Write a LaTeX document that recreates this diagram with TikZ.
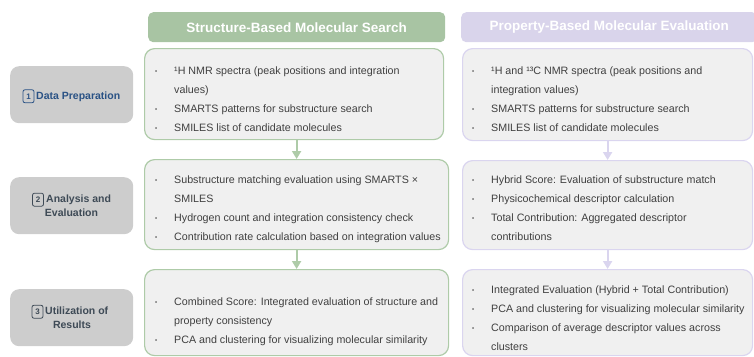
\documentclass[tikz,border=0pt]{standalone}
\usepackage{fontspec}
\setmainfont{Liberation Sans}
\usetikzlibrary{arrows.meta}

\definecolor{sage}{HTML}{A8C4A3}
\definecolor{sageline}{HTML}{AECBA8}
\definecolor{lav}{HTML}{D9D4EB}
\definecolor{lavline}{HTML}{DAD5EF}
\definecolor{panel}{HTML}{F0F0F0}
\definecolor{stepgray}{HTML}{CDCDCD}
\definecolor{bodytext}{HTML}{404040}
\definecolor{navy}{HTML}{2A5285}
\definecolor{slate}{HTML}{3E4A56}

% bullet list helpers: \bl = bulleted line, \cl = continuation line
\newcommand\bl[1]{\hbox{\makebox[19pt][l]{\raisebox{0.25ex}{\fontsize{6}{6}\selectfont\textbullet}}#1}}
\newcommand\cl[1]{\hbox{\hspace*{19pt}#1}}
\newcommand\blist[1]{\vtop{\baselineskip=19pt\lineskiplimit=-20pt\lineskip=0pt #1}}

\tikzset{
  header/.style={rounded corners=5pt, minimum height=30pt, inner sep=0pt, anchor=north west,
    text=white, font=\fontsize{13.5}{16}\selectfont\bfseries},
  panelbox/.style={rounded corners=10pt, fill=panel, line width=1.2pt, inner sep=0pt, anchor=north west},
  gpanel/.style={panelbox, draw=sageline},
  ppanel/.style={panelbox, draw=lavline},
  stepbox/.style={rounded corners=9pt, fill=stepgray, inner sep=0pt, anchor=north west,
    minimum width=123pt, minimum height=57pt},
  listtext/.style={anchor=base west, inner sep=0pt, text=bodytext, font=\fontsize{10.7}{19}\selectfont},
  steptext/.style={anchor=base west, inner sep=0pt, font=\fontsize{10.5}{14}\selectfont\bfseries},
  numicon/.style={draw, rounded corners=2pt, line width=0.8pt, inner sep=0pt, anchor=base,
    minimum width=11pt, minimum height=13pt, font=\fontsize{8}{9}\selectfont\bfseries},
  garrow/.style={draw=sageline, line width=2pt, -{Triangle[length=8pt,width=9pt]}},
  parrow/.style={draw=lavline, line width=2pt, -{Triangle[length=8pt,width=9pt]}},
}

\begin{document}
\begin{tikzpicture}[x=1pt, y=-1pt]
\useasboundingbox (0,0) rectangle (754,356);

% column headers
\node[header, fill=sage, minimum width=297pt] (hg) at (148,12) {Structure-Based Molecular Search};
\node[header, fill=lav, minimum width=296pt] (hp) at (461,12) {Property-Based Molecular Evaluation};

% step labels
\node[stepbox] (s1) at (10,66) {};
\node[stepbox] (s2) at (10,177) {};
\node[stepbox] (s3) at (10,289) {};

\node[numicon, draw=navy, text=navy] (n1) at (28.5,99) {1};
\node[steptext, text=navy] (t1) at (36,99) {Data Preparation};

\node[numicon, draw=slate, text=slate] (n2) at (38,202.5) {2};
\node[steptext, text=slate] (t2a) at (46,202.5) {Analysis and};
\node[steptext, text=slate, anchor=base] (t2b) at (71.5,216.5) {Evaluation};

\node[numicon, draw=slate, text=slate] (n3) at (37.5,314.5) {3};
\node[steptext, text=slate] (t3a) at (45,314.5) {Utilization of};
\node[steptext, text=slate, anchor=base] (t3b) at (72,328.5) {Results};

% structure-based panels
\node[gpanel, minimum width=299pt, minimum height=91pt] (g1) at (144,48) {};
\node[gpanel, minimum width=304pt, minimum height=90pt] (g2) at (144,159) {};
\node[gpanel, minimum width=304pt, minimum height=86pt] (g3) at (144,269) {};

% property-based panels
\node[ppanel, minimum width=290pt, minimum height=92pt] (p1) at (462,48) {};
\node[ppanel, minimum width=290pt, minimum height=89pt] (p2) at (462,160) {};
\node[ppanel, minimum width=290pt, minimum height=86pt] (p3) at (462,269) {};

% flow arrows
\draw[garrow] (g2.north |- g1.south) -- (g2.north);
\draw[garrow] (g3.north |- g2.south) -- (g3.north);
\draw[parrow] (p2.north |- p1.south) -- (p2.north);
\draw[parrow] (p3.north |- p2.south) -- (p3.north);

% panel contents
\node[listtext] (g1t) at (155,74.5) {\blist{%
  \bl{¹H NMR spectra (peak positions and integration}
  \cl{values)}
  \bl{SMARTS patterns for substructure search}
  \bl{SMILES list of candidate molecules}}};

\node[listtext] (g2t) at (155,183.5) {\blist{%
  \bl{Substructure matching evaluation using SMARTS ×}
  \cl{SMILES}
  \bl{Hydrogen count and integration consistency check}
  \bl{Contribution rate calculation based on integration values}}};

\node[listtext] (g3t) at (155,305.5) {\blist{%
  \bl{Combined Score: Integrated evaluation of structure and}
  \cl{property consistency}
  \bl{PCA and clustering for visualizing molecular similarity}}};

\node[listtext] (p1t) at (472,74.5) {\blist{%
  \bl{¹H and ¹³C NMR spectra (peak positions and}
  \cl{integration values)}
  \bl{SMARTS patterns for substructure search}
  \bl{SMILES list of candidate molecules}}};

\node[listtext] (p2t) at (472,183.5) {\blist{%
  \bl{Hybrid Score: Evaluation of substructure match}
  \bl{Physicochemical descriptor calculation}
  \bl{Total Contribution: Aggregated descriptor}
  \cl{contributions}}};

\node[listtext] (p3t) at (472,293.5) {\blist{%
  \bl{Integrated Evaluation (Hybrid + Total Contribution)}
  \bl{PCA and clustering for visualizing molecular similarity}
  \bl{Comparison of average descriptor values across}
  \cl{clusters}}};
\end{tikzpicture}
\end{document}
